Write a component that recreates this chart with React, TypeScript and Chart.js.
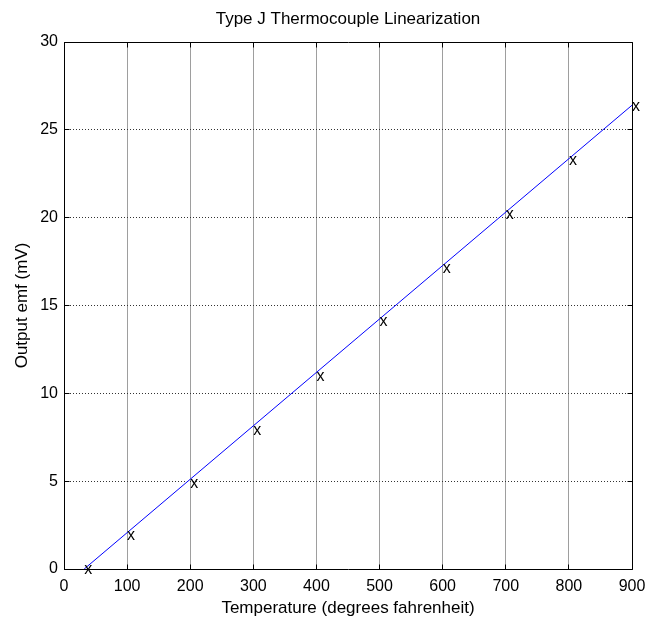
import { useEffect, useRef } from 'react';
import { Chart, registerables } from 'chart.js';

Chart.register(...registerables);

// ---- data ----
const temperaturesF = [32, 100, 200, 300, 400, 500, 600, 700, 800, 900];
const emfMV = [0, 1.94, 4.91, 7.95, 11.03, 14.12, 17.18, 20.26, 23.32, 26.4];
const fitTemperaturesF = [32, 900];
const fitEmfMV = [0, 26.4];
const xTickValues = [0, 100, 200, 300, 400, 500, 600, 700, 800, 900];
const yTickValues = [0, 5, 10, 15, 20, 25, 30];

const titleText = 'Type J Thermocouple Linearization';
const xLabel = 'Temperature (degrees fahrenheit)';
const yLabel = 'Output emf (mV)';

const align = (p: number) => Math.floor(p) + 0.5;

function hasFont(name: string): boolean {
  try {
    const c = document.createElement('canvas').getContext('2d') as CanvasRenderingContext2D;
    const s = 'Type J Thermocouple 0123';
    c.font = '40px monospace';
    const a = c.measureText(s).width;
    c.font = `40px '${name}', monospace`;
    const b = c.measureText(s).width;
    return Math.abs(a - b) > 0.5;
  } catch (e) {
    return false;
  }
}

export default function App() {
  const canvasRef = useRef<HTMLCanvasElement | null>(null);

  useEffect(() => {
    if (!canvasRef.current) return;
    const narrow = hasFont('Liberation Sans Narrow');
    const FONT = narrow
      ? "'Liberation Sans Narrow', 'Liberation Sans', Arial, sans-serif"
      : "'Liberation Sans', Arial, Helvetica, sans-serif";
    const TICK = narrow ? 19 : 16;
    const LBL = narrow ? 20 : 17;
    const MARK = narrow ? 19 : 16;

    const matlabAxesPlugin = {
      id: 'matlabAxes',
      afterDatasetsDraw(chart: any) {
        const { ctx, chartArea: a, scales } = chart;
        const xs = scales.x;
        const ys = scales.y;
        const L = align(a.left);
        const R = align(a.right);
        const T = align(a.top);
        const B = align(a.bottom);
        ctx.save();
        ctx.strokeStyle = '#000';
        ctx.lineWidth = 1;
        ctx.setLineDash([]);
        ctx.beginPath();
        ctx.rect(L, T, R - L, B - T);
        ctx.stroke();
        const tl = 5;
        ctx.beginPath();
        xTickValues.forEach((v) => {
          const px = align(xs.getPixelForValue(v));
          ctx.moveTo(px, B);
          ctx.lineTo(px, B - tl);
          ctx.moveTo(px, T);
          ctx.lineTo(px, T + tl);
        });
        yTickValues.forEach((v) => {
          const py = align(ys.getPixelForValue(v));
          ctx.moveTo(L, py);
          ctx.lineTo(L + tl, py);
          ctx.moveTo(R, py);
          ctx.lineTo(R - tl, py);
        });
        ctx.stroke();

        // 'x' text markers at the sample points
        const meta = chart.getDatasetMeta(1);
        ctx.fillStyle = '#000';
        ctx.font = `${MARK}px ${FONT}`;
        ctx.textAlign = 'left';
        ctx.textBaseline = 'middle';
        meta.data.forEach((el: any) => {
          ctx.fillText('x', el.x, el.y + 1);
        });

        // title centred over the axes box
        ctx.font = `${LBL}px ${FONT}`;
        ctx.textAlign = 'center';
        ctx.textBaseline = 'middle';
        ctx.fillText(titleText, (a.left + a.right) / 2, 19.5);
        ctx.restore();
      },
    };

    const chart = new Chart(canvasRef.current, {
      type: 'scatter',
      data: {
        datasets: [
          {
            label: 'fit',
            data: fitTemperaturesF.map((t, i) => ({ x: t, y: fitEmfMV[i] })),
            showLine: true,
            borderColor: '#0000ff',
            borderWidth: 1,
            pointRadius: 0,
            fill: false,
          },
          {
            label: 'samples',
            data: temperaturesF.map((t, i) => ({ x: t, y: emfMV[i] })),
            showLine: false,
            pointRadius: 0,
          },
        ],
      },
      options: {
        animation: false,
        responsive: false,
        devicePixelRatio: 1,
        layout: { padding: { left: 0, right: 33, top: 42, bottom: 0 } },
        plugins: {
          legend: { display: false },
          tooltip: { enabled: false },
          title: { display: false },
        },
        scales: {
          x: {
            type: 'linear',
            min: 0,
            max: 900,
            afterBuildTicks: (s: any) => {
              s.ticks = xTickValues.map((v) => ({ value: v }));
            },
            afterFit: (s: any) => {
              s.height = 55;
            },
            ticks: {
              color: '#000',
              font: { family: FONT, size: TICK },
              padding: 8,
              maxRotation: 0,
              autoSkip: false,
            },
            grid: {
              color: 'rgba(0,0,0,0.38)',
              drawTicks: false,
              lineWidth: 1,
            },
            border: { display: false },
            title: {
              display: true,
              text: xLabel,
              color: '#000',
              font: { family: FONT, size: LBL },
              padding: { top: 0, bottom: 5 },
            },
          },
          y: {
            type: 'linear',
            min: 0,
            max: 30,
            afterBuildTicks: (s: any) => {
              s.ticks = yTickValues.map((v) => ({ value: v }));
            },
            afterFit: (s: any) => {
              s.width = 64;
            },
            ticks: {
              color: '#000',
              font: { family: FONT, size: TICK },
              padding: 6,
              autoSkip: false,
            },
            grid: {
              color: '#333',
              drawTicks: false,
              lineWidth: 1,
            },
            border: { display: false, dash: [1, 2] },
            title: {
              display: true,
              text: yLabel,
              color: '#000',
              font: { family: FONT, size: LBL },
              padding: { top: 12, bottom: 0 },
            },
          },
        },
      },
      plugins: [matlabAxesPlugin],
    } as any);
    return () => chart.destroy();
  }, []);

  return (
    <div style={{ position: 'absolute', left: 0, top: 0, width: 665, height: 624, background: '#fff' }}>
      <canvas ref={canvasRef} width={665} height={624} style={{ display: 'block' }} />
    </div>
  );
}
